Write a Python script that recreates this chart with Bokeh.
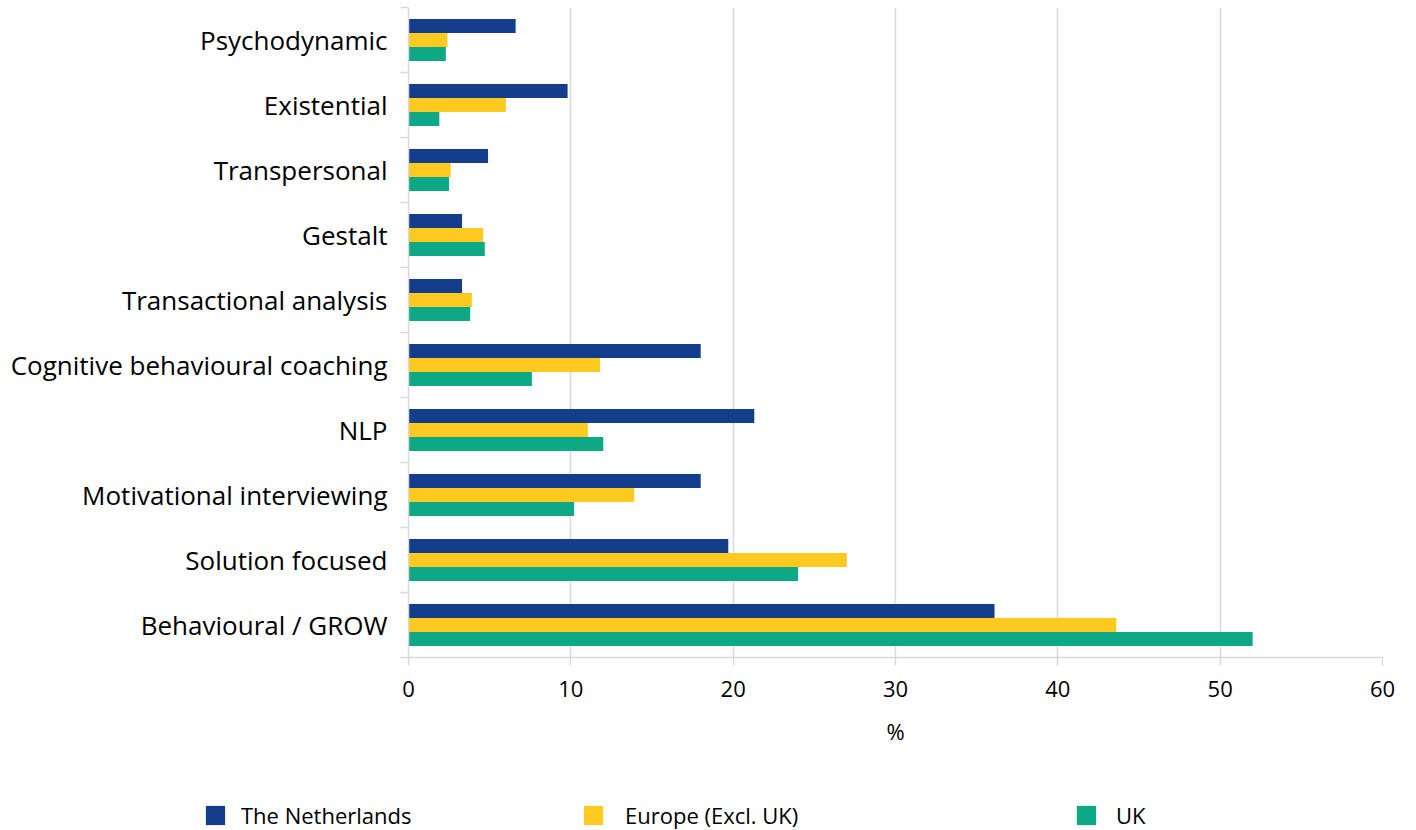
from bokeh.plotting import figure
from bokeh.models import Range1d, FixedTicker, Legend, LegendItem
from bokeh.embed import file_html
from bokeh.resources import INLINE

categories = ["Behavioural / GROW", "Solution focused", "Motivational interviewing", "NLP",
              "Cognitive behavioural coaching", "Transactional analysis", "Gestalt",
              "Transpersonal", "Existential", "Psychodynamic"]
netherlands = [36.1, 19.7, 18.0, 21.3, 18.0, 3.3, 3.3, 4.9, 9.8, 6.6]
europe = [43.6, 27.0, 13.9, 11.05, 11.8, 3.9, 4.6, 2.6, 6.0, 2.4]
uk = [52.0, 24.0, 10.2, 12.0, 7.6, 3.8, 4.7, 2.5, 1.9, 2.3]
series_names = ["The Netherlands", "Europe (Excl. UK)", "UK"]
x_ticks = [0, 10, 20, 30, 40, 50, 60]

colors = ["#143E8C", "#FFCA1F", "#0DA886"]
FONT = "Open Sans"
GRID = "#d9d9d9"

p = figure(width=1400, height=782, output_backend="svg", toolbar_location=None,
           x_range=Range1d(0, 60), y_range=Range1d(0, len(categories)),
           min_border_left=408, min_border_right=18, min_border_top=7, min_border_bottom=125)
p.outline_line_color = None

centers = [i + 0.5 for i in range(len(categories))]
bh = 0.215
for k, (vals, col) in enumerate(zip([netherlands, europe, uk], colors)):
    ys = [c + (1 - k) * bh for c in centers]
    p.hbar(y=ys, right=vals, left=0, height=bh, fill_color=col, line_color=None)

# x axis
p.xaxis.ticker = FixedTicker(ticks=x_ticks)
p.xaxis.axis_line_color = GRID
p.xaxis.axis_line_width = 1.5
p.xaxis.major_tick_line_color = GRID
p.xaxis.major_tick_line_width = 1.5
p.xaxis.major_tick_out = 8
p.xaxis.major_tick_in = 0
p.xaxis.minor_tick_line_color = None
p.xaxis.major_label_text_font = FONT
p.xaxis.major_label_text_font_size = "22px"
p.xaxis.major_label_text_color = "#000000"
p.xaxis.major_label_standoff = 15
p.xaxis.axis_label = "%"
p.xaxis.axis_label_text_font = FONT
p.xaxis.axis_label_text_font_style = "normal"
p.xaxis.axis_label_text_font_size = "22px"
p.xaxis.axis_label_text_color = "#000000"
p.xaxis.axis_label_standoff = 16

# y axis
p.yaxis.ticker = FixedTicker(ticks=centers, minor_ticks=list(range(len(categories) + 1)))
p.yaxis.major_label_overrides = {c: lab for c, lab in zip(centers, categories)}
p.yaxis.axis_line_color = GRID
p.yaxis.axis_line_width = 1.5
p.yaxis.major_tick_line_color = None
p.yaxis.major_tick_out = 0
p.yaxis.major_tick_in = 0
p.yaxis.minor_tick_line_color = GRID
p.yaxis.minor_tick_line_width = 1.5
p.yaxis.minor_tick_out = 8
p.yaxis.minor_tick_in = 0
p.yaxis.major_label_text_font = FONT
p.yaxis.major_label_text_font_size = "26px"
p.yaxis.major_label_text_color = "#000000"
p.yaxis.major_label_standoff = 13

p.xgrid.ticker = FixedTicker(ticks=x_ticks)
p.xgrid.grid_line_color = GRID
p.xgrid.grid_line_width = 1.5
p.ygrid.grid_line_color = None

# legend strip (separate root so its frame spans the full width)
lf = figure(width=1400, height=48, output_backend="svg", toolbar_location=None,
            x_range=Range1d(0, 1400), y_range=Range1d(0, 48),
            min_border_left=0, min_border_right=0, min_border_top=0, min_border_bottom=0,
            x_axis_location=None, y_axis_location=None)
lf.outline_line_color = None
lf.xgrid.grid_line_color = None
lf.ygrid.grid_line_color = None

legend_x = [203, 581, 1074]
legend_standoff = [14, 20, 18]
for name, col, lx, so in zip(series_names, colors, legend_x, legend_standoff):
    r = lf.hbar(y=[-100], right=[1], left=0, height=1, fill_color=col, line_color=None)
    lg = Legend(items=[LegendItem(label=name, renderers=[r])], location=(lx, 0),
                orientation="horizontal", padding=0, margin=0, spacing=0,
                glyph_width=24, glyph_height=24, label_height=24, label_standoff=so,
                label_text_font=FONT, label_text_font_size="22px", label_text_color="#000000",
                border_line_color=None, background_fill_alpha=0)
    lf.add_layout(lg, "center")

open("out.html", "w").write(file_html([p, lf], INLINE))
